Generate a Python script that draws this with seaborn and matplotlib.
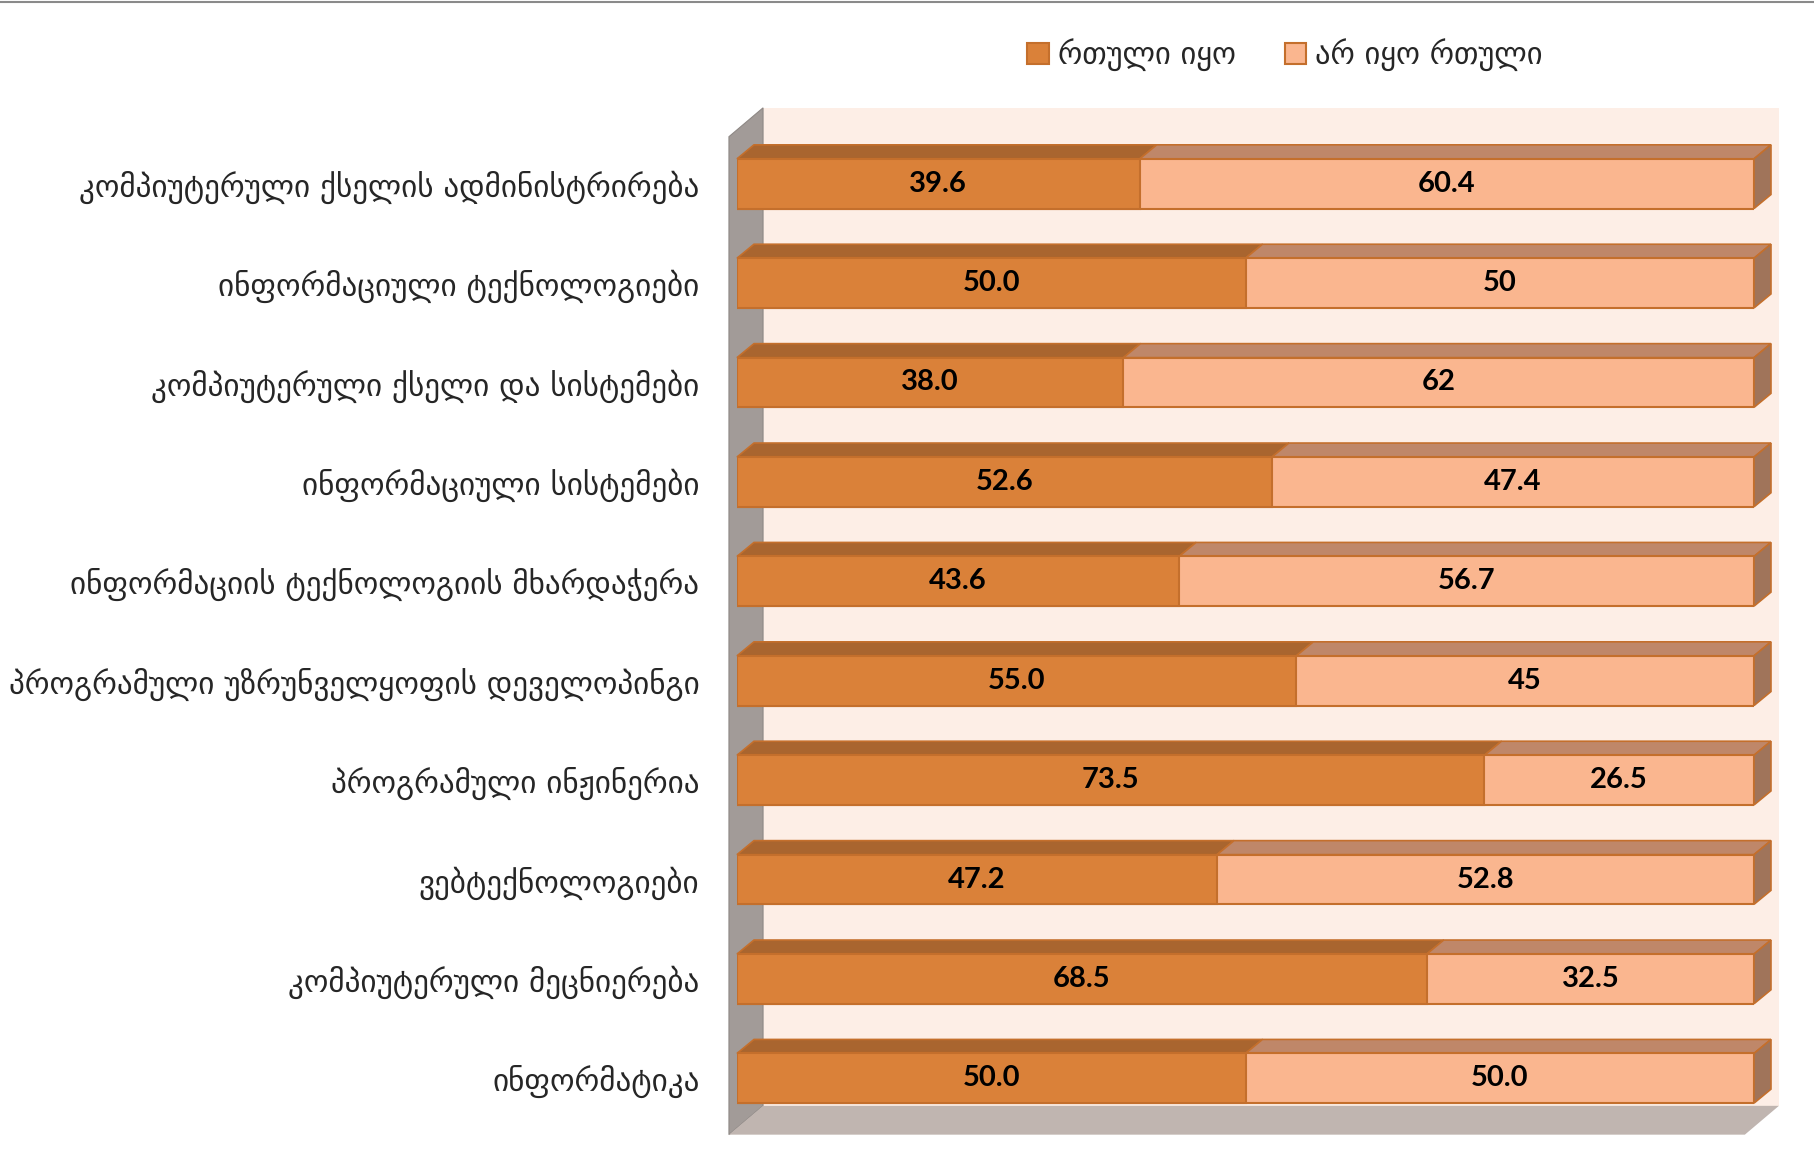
import matplotlib
matplotlib.use("Agg")
import matplotlib.pyplot as plt
import seaborn as sns
import pandas as pd
from matplotlib.patches import Polygon, Rectangle
from matplotlib.lines import Line2D

categories = [
    "კომპიუტერული ქსელის ადმინისტრირება",
    "ინფორმაციული ტექნოლოგიები",
    "კომპიუტერული ქსელი და სისტემები",
    "ინფორმაციული სისტემები",
    "ინფორმაციის ტექნოლოგიის მხარდაჭერა",
    "პროგრამული უზრუნველყოფის დეველოპინგი",
    "პროგრამული ინჟინერია",
    "ვებტექნოლოგიები",
    "კომპიუტერული მეცნიერება",
    "ინფორმატიკა",
]
difficult = [39.6, 50.0, 38.0, 52.6, 43.6, 55.0, 73.5, 47.2, 68.5, 50.0]
not_difficult = [60.4, 50, 62, 47.4, 56.7, 45, 26.5, 52.8, 32.5, 50.0]
difficult_labels = ["39.6", "50.0", "38.0", "52.6", "43.6", "55.0", "73.5", "47.2", "68.5", "50.0"]
not_difficult_labels = ["60.4", "50", "62", "47.4", "56.7", "45", "26.5", "52.8", "32.5", "50.0"]
series_names = ["რთული იყო", "არ იყო რთული"]

sns.set_style("white")
plt.rcParams["font.family"] = ["DejaVu Sans"]

W, H = 1814, 1167
fig = plt.figure(figsize=(W / 100, H / 100), dpi=100)
ax = fig.add_axes([737 / W, 1 - 1128 / H, 1017 / W, (1128 - 134) / H])

DARK = "#DA8139"
DARK_TOP = "#A9652F"
LIGHT = "#FAB68F"
LIGHT_TOP = "#BF8769"
LIGHT_SIDE = "#A0745A"
EDGE = "#C46F2C"

# 100% stacked: shares of each row total
df = pd.DataFrame({"cat": categories, "d": difficult, "n": not_difficult})
df["total"] = df["d"] + df["n"]
df["d_share"] = df["d"] / df["total"] * 100
df["full"] = 100.0

sns.barplot(data=df, x="full", y="cat", orient="h", color=LIGHT, width=0.5,
            saturation=1, edgecolor=EDGE, linewidth=1.5, ax=ax, zorder=3)
n_light = len(ax.patches)
light_patches = list(ax.patches)
sns.barplot(data=df, x="d_share", y="cat", orient="h", color=DARK, width=0.5,
            saturation=1, edgecolor=EDGE, linewidth=1.5, ax=ax, zorder=4)
dark_patches = list(ax.patches)[n_light:]

ax.set_xlim(0, 100)
ax.set_ylim(len(categories) - 0.5, -0.5)

# 3D depth in data units
ddx, ddy = 1.67, 0.141

# box walls
wx0, wx1 = -0.79, 99.1
wdx, wdy = 3.35, 0.29
ytop_front, ybot_front = -0.473, 9.567
ax.add_patch(Rectangle((wx0 + wdx, ytop_front - wdy), wx1 - wx0, ybot_front - ytop_front,
                       facecolor="#FDEEE6", edgecolor="none", zorder=0, clip_on=False))
ax.add_patch(Polygon([(wx0, ytop_front), (wx0 + wdx, ytop_front - wdy),
                      (wx0 + wdx, ybot_front - wdy), (wx0, ybot_front)],
                     facecolor="#A29B98", edgecolor="#8E8885", lw=0.8, zorder=1, clip_on=False))
ax.add_patch(Polygon([(wx0, ybot_front), (wx1, ybot_front),
                      (wx1 + wdx, ybot_front - wdy), (wx0 + wdx, ybot_front - wdy)],
                     facecolor="#C0B5B0", edgecolor="none", zorder=1, clip_on=False))

for pd_, pl in zip(dark_patches, light_patches):
    y0 = pd_.get_y()
    x_d = pd_.get_width()
    x_t = pl.get_width()
    h = pd_.get_height()
    ax.add_patch(Polygon([(0, y0), (x_d, y0), (x_d + ddx, y0 - ddy), (ddx, y0 - ddy)],
                         facecolor=DARK_TOP, edgecolor=EDGE, lw=1.2, zorder=2, clip_on=False))
    ax.add_patch(Polygon([(x_d, y0), (x_t, y0), (x_t + ddx, y0 - ddy), (x_d + ddx, y0 - ddy)],
                         facecolor=LIGHT_TOP, edgecolor=EDGE, lw=1.2, zorder=2, clip_on=False))
    ax.add_patch(Polygon([(x_t, y0), (x_t + ddx, y0 - ddy), (x_t + ddx, y0 + h - ddy), (x_t, y0 + h)],
                         facecolor=LIGHT_SIDE, edgecolor=EDGE, lw=1.2, zorder=2, clip_on=False))

for i, (pd_, pl) in enumerate(zip(dark_patches, light_patches)):
    yc = pd_.get_y() + pd_.get_height() / 2
    x_d = pd_.get_width()
    x_t = pl.get_width()
    ax.text(x_d / 2, yc, difficult_labels[i], ha="center", va="center", fontsize=21,
            fontweight="bold", family=["Lato", "DejaVu Sans"], color="black", zorder=6)
    ax.text((x_d + x_t) / 2, yc, not_difficult_labels[i], ha="center", va="center", fontsize=21,
            fontweight="bold", family=["Lato", "DejaVu Sans"], color="black", zorder=6)

for s in ax.spines.values():
    s.set_visible(False)
ax.set_xlabel("")
ax.set_ylabel("")
ax.set_xticks([])
ax.tick_params(axis="y", length=0, pad=27, labelsize=22.4)
ax.set_yticks(range(len(categories)))
ax.set_yticklabels(categories)
ax.set_facecolor("none")

handles = [Rectangle((0, 0), 1, 1, facecolor=DARK, edgecolor=EDGE, lw=1.5),
           Rectangle((0, 0), 1, 1, facecolor=LIGHT, edgecolor=EDGE, lw=1.5)]
fig.legend(handles, series_names, loc="center", bbox_to_anchor=(1285 / W, 1 - 55 / H),
           ncol=2, frameon=False, fontsize=22, handlelength=0.7, handleheight=0.7,
           handletextpad=0.3, columnspacing=1.6)

fig.add_artist(Line2D([0, 1], [1 - 1.5 / H, 1 - 1.5 / H], color="#8A8A8A", lw=1.5))

fig.savefig("out.png", dpi=100)
